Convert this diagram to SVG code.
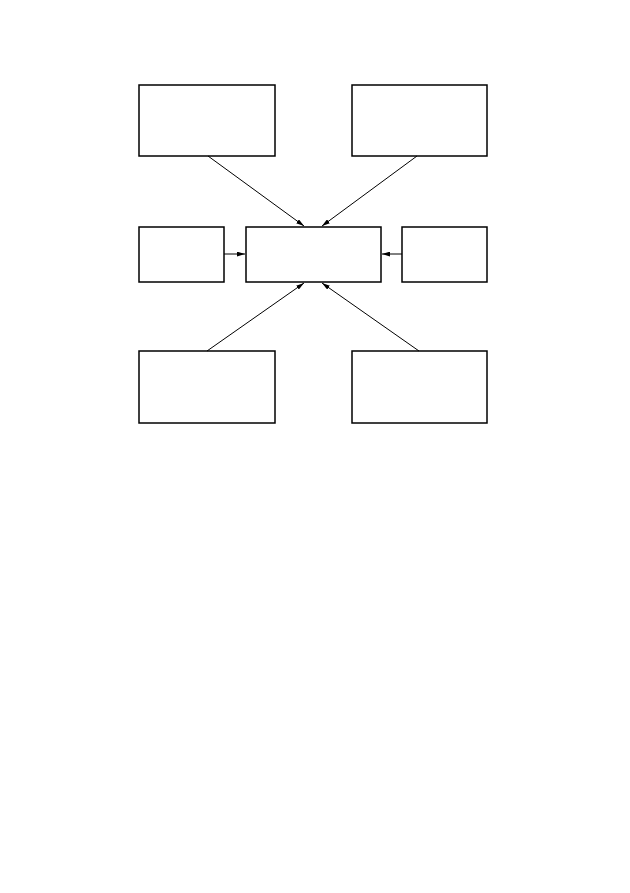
<svg xmlns="http://www.w3.org/2000/svg" width="630" height="893" viewBox="0 0 630 893">
<style>
.box{fill:#fff;stroke:#000;stroke-width:1.5}
.con{stroke:#000;stroke-width:1;fill:none;marker-end:url(#ah)}
</style>
<defs>
<marker id="ah" viewBox="0 0 10 6" refX="10" refY="3" markerWidth="8" markerHeight="5" markerUnits="userSpaceOnUse" orient="auto">
<path d="M0,0 L10,3 L0,6 z" fill="#000"/>
</marker>
</defs>
<rect width="630" height="893" fill="#fff"/>
<g id="n-top-left"><rect class="box" x="139" y="85" width="136" height="71"/></g>
<g id="n-top-right"><rect class="box" x="352" y="85" width="135" height="71"/></g>
<g id="n-mid-left"><rect class="box" x="139" y="227" width="85" height="55"/></g>
<g id="n-center"><rect class="box" x="246" y="227" width="135" height="55"/></g>
<g id="n-mid-right"><rect class="box" x="402" y="227" width="85" height="55"/></g>
<g id="n-bot-left"><rect class="box" x="139" y="351" width="136" height="72"/></g>
<g id="n-bot-right"><rect class="box" x="352" y="351" width="135" height="72"/></g>
<g id="connectors">
<line class="con" x1="208" y1="156" x2="304" y2="226"/>
<line class="con" x1="417" y1="156" x2="322" y2="226"/>
<line class="con" x1="224" y1="254" x2="245" y2="254"/>
<line class="con" x1="402" y1="254" x2="382" y2="254"/>
<line class="con" x1="207" y1="351" x2="304" y2="283"/>
<line class="con" x1="419" y1="351" x2="322" y2="283"/>
</g>
</svg>
